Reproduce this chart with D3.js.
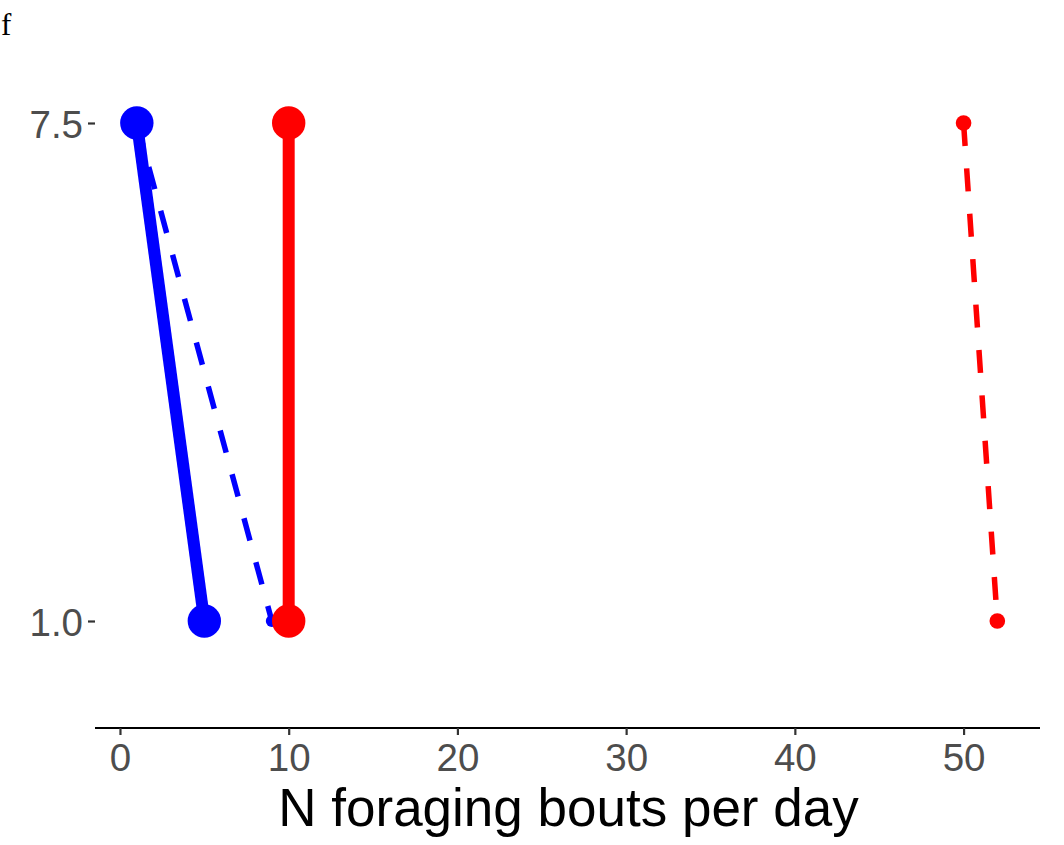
<!DOCTYPE html>
<html>
<head>
<meta charset="utf-8">
<script src="https://cdn.jsdelivr.net/npm/d3@7"></script>
<style>
  html, body { margin: 0; padding: 0; background: #fff; }
  svg { display: block; }
</style>
</head>
<body>
<svg id="chart" width="1064" height="845"></svg>
<script>
// ---- data ----
const panelLabel = "f";
const xTicks = [0, 10, 20, 30, 40, 50];
const yTicks = [7.5, 1.0];
const yLabels = ["7.5", "1.0"];
const xTitle = "N foraging bouts per day";

const seriesNames = ["blueSolid", "blueDashed", "redSolid", "redDashed"];
const seriesColors = ["#0000ff", "#0000ff", "#ff0000", "#ff0000"];
const seriesDashed = [false, true, false, true];
const seriesX = [[1, 5], [1, 9], [10, 10], [50, 52]];
const seriesY = [[7.5, 1.0], [7.5, 1.0], [7.5, 1.0], [7.5, 1.0]];
const seriesLineWidth = [12, 5.5, 12, 5.5];
const seriesPointR = [16.7, 6, 16.7, 7.8];

// ---- scales ----
const svg = d3.select("#chart");
const x = d3.scaleLinear().domain([-1.48, 54.53]).range([95, 1040]);
const y = d3.scaleLinear().domain([1.0, 7.5]).range([621, 123]);
const axisY = 728;

// panel label
svg.append("text")
  .attr("x", 1).attr("y", 35)
  .attr("font-family", "'Liberation Serif', 'DejaVu Serif', serif")
  .attr("font-size", 31)
  .attr("fill", "#000")
  .text(panelLabel);

// x axis
const xAxis = d3.axisBottom(x).tickValues(xTicks).tickSize(7).tickPadding(6).tickFormat(d3.format("d"));
const gx = svg.append("g").attr("transform", `translate(0,${axisY})`).call(xAxis);
gx.select(".domain").attr("stroke", "#000").attr("stroke-width", 2.2).attr("d", `M${x.range()[0]},0H${x.range()[1]}`);
gx.selectAll(".tick line").attr("stroke", "#333").attr("stroke-width", 2.2);
gx.selectAll(".tick text")
  .attr("font-family", "'Liberation Sans', Arial, sans-serif")
  .attr("font-size", 38.5).attr("fill", "#4d4d4d")
  .attr("dy", null).attr("y", 43);

// y axis (ticks only)
const yAxis = d3.axisLeft(y).tickValues(yTicks).tickSize(7).tickPadding(6)
  .tickFormat((d, i) => yLabels[i]);
const gy = svg.append("g").attr("transform", `translate(95,0)`).call(yAxis);
gy.select(".domain").remove();
gy.selectAll(".tick line").attr("stroke", "#333").attr("stroke-width", 2.2);
gy.selectAll(".tick text")
  .attr("font-family", "'Liberation Sans', Arial, sans-serif")
  .attr("font-size", 38.5).attr("fill", "#4d4d4d")
  .attr("dy", null).attr("y", 14).attr("x", -12);

// x title
svg.append("text")
  .attr("x", (x(-1.48) + x(54.53)) / 2 + 1).attr("y", 826)
  .attr("text-anchor", "middle")
  .attr("font-family", "'Liberation Sans', Arial, sans-serif")
  .attr("font-size", 53).attr("fill", "#000")
  .text(xTitle);

// lines
const line = d3.line().x(d => x(d[0])).y(d => y(d[1]));
seriesNames.forEach((name, i) => {
  const pts = seriesX[i].map((v, j) => [v, seriesY[i][j]]);
  svg.append("path")
    .attr("class", "line-" + name)
    .attr("d", line(pts))
    .attr("fill", "none")
    .attr("stroke", seriesColors[i])
    .attr("stroke-width", seriesLineWidth[i])
    .attr("stroke-dasharray", seriesDashed[i] ? "23,22.5" : null);
});

// points
seriesNames.forEach((name, i) => {
  const pts = seriesX[i].map((v, j) => [v, seriesY[i][j]]);
  svg.append("g").attr("class", "pts-" + name)
    .selectAll("circle").data(pts).join("circle")
    .attr("cx", d => x(d[0])).attr("cy", d => y(d[1]))
    .attr("r", seriesPointR[i])
    .attr("fill", seriesColors[i]);
});
</script>
</body>
</html>
